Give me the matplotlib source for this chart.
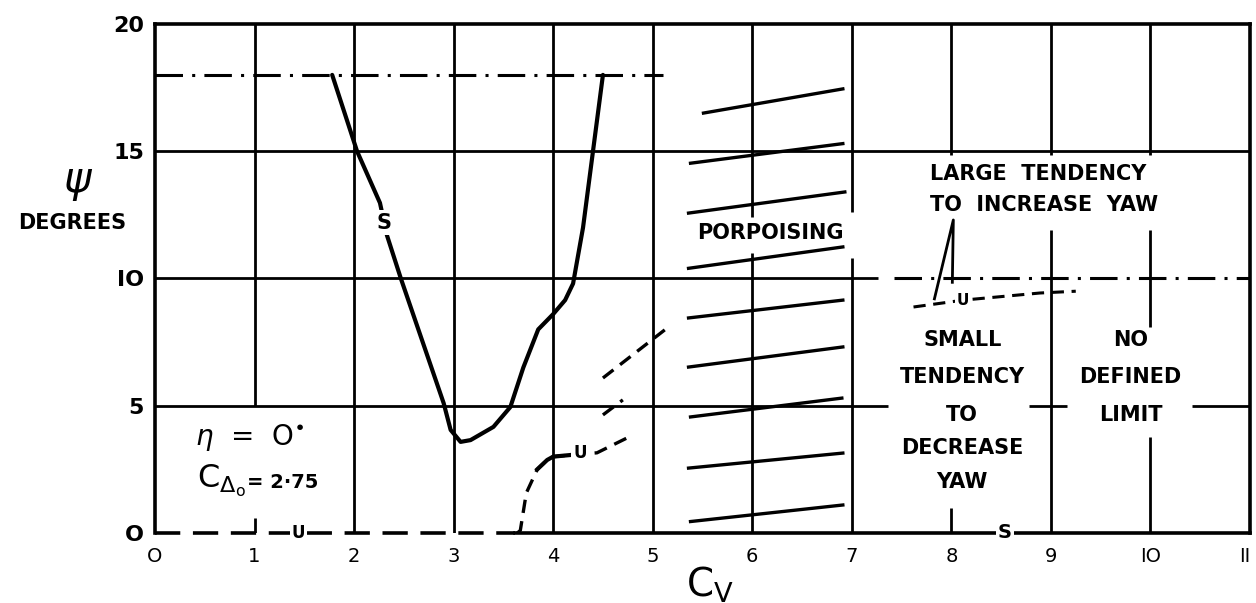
import matplotlib
matplotlib.use("Agg")
import matplotlib.pyplot as plt

# ---- data ----
# stable limit curve "S"
s_cv = [1.78, 2.03, 2.26, 2.33, 2.47, 2.90, 2.97, 3.07, 3.17, 3.40, 3.57, 3.70, 3.85, 4.00, 4.12, 4.20, 4.30, 4.40, 4.50]
s_psi = [18.0, 15.0, 12.97, 11.7, 10.0, 5.1, 4.05, 3.58, 3.65, 4.17, 4.95, 6.5, 8.0, 8.6, 9.15, 9.8, 12.0, 15.0, 18.0]

# unstable limit "U" (dashed)
u_cv = [3.64, 3.67, 3.73, 3.84, 3.94, 4.00, 4.27, 4.44, 4.74]
u_psi = [0.0, 0.1, 1.57, 2.5, 2.87, 3.0, 3.1, 3.15, 3.73]
u2_cv = [4.50, 5.16]
u2_psi = [6.09, 8.10]
u3_cv = [4.50, 4.70]
u3_psi = [4.64, 5.23]
u4_cv = [7.62, 8.12, 8.89, 9.25]
u4_psi = [8.88, 9.15, 9.43, 9.50]

# porpoising hatch lines
porp_x0 = [5.38, 5.36, 5.38, 5.36, 5.36, 5.36, 5.36, 5.38, 5.51]
porp_y0 = [0.45, 2.55, 4.56, 6.52, 8.45, 10.4, 12.57, 14.53, 16.5]
porp_x1 = [6.91, 6.91, 6.90, 6.91, 6.91, 6.91, 6.93, 6.91, 6.91]
porp_y1 = [1.10, 3.14, 5.30, 7.31, 9.15, 11.24, 13.4, 15.3, 17.45]

# dash-dot limits
limit18_cv = [0.0, 5.1]
limit10_cv = [7.42, 11.0]

x_ticks = list(range(12))
x_labels = ["O", "1", "2", "3", "4", "5", "6", "7", "8", "9", "IO", "II"]
y_ticks = [0, 5, 10, 15, 20]
y_labels = ["O", "5", "IO", "15", "20"]

K = "black"
plt.rcParams['font.family'] = ['DejaVu Sans']

fig = plt.figure(figsize=(12.56, 6.03), dpi=100)
ax = fig.add_axes([0.1234, 0.1161, 0.8718, 0.8441])
ax.set_xlim(0, 11)
ax.set_ylim(0, 20)

for side in ["top", "left", "right"]:
    ax.spines[side].set_linewidth(2.6)
ax.spines["bottom"].set_visible(False)

# grid, broken where the lettering sits
vsegs = {1: [(5, 20), (0, 0.6)], 2: [(0, 20)], 3: [(0, 20)], 4: [(0, 20)], 5: [(0, 20)],
         6: [(0, 11.0), (12.4, 20)], 7: [(0, 10.8), (12.6, 20)],
         8: [(14.85, 20), (0, 1.0)], 9: [(14.85, 20), (0, 11.9)],
         10: [(14.85, 20), (8.1, 11.9), (0, 3.77)]}
for xv, segs in vsegs.items():
    for a, b in segs:
        ax.plot([xv, xv], [a, b], color=K, lw=2.0, solid_capstyle='butt')
hsegs = {5: [(0, 7.36), (8.78, 9.16), (10.42, 11)], 10: [(0, 7.26)], 15: [(0, 11)]}
for yv, segs in hsegs.items():
    for a, b in segs:
        ax.plot([a, b], [yv, yv], color=K, lw=2.0, solid_capstyle='butt')

# bottom line: dashed "U" then solid "S"
ax.plot([0, 3.62], [0, 0], color=K, lw=2.6, dashes=(7, 3.5), clip_on=False)
ax.plot([3.62, 11], [0, 0], color=K, lw=2.6, clip_on=False)

dashdot = (9, 3, 1, 3)
ax.plot(limit18_cv, [18, 18], color=K, lw=2.2, dashes=dashdot)
ax.plot(limit10_cv, [10, 10], color=K, lw=2.2, dashes=dashdot)

ax.plot(s_cv, s_psi, color=K, lw=3.0, solid_capstyle='round', solid_joinstyle='round')
ax.plot(u_cv, u_psi, color=K, lw=2.4, dashes=(4, 2.5))
ax.plot(u_cv[3:7], u_psi[3:7], color=K, lw=3.0)
ax.plot(u2_cv, u2_psi, color=K, lw=2.4, dashes=(4, 2.5))
ax.plot(u3_cv, u3_psi, color=K, lw=2.4, dashes=(4, 2.5))
ax.plot(u4_cv, u4_psi, color=K, lw=2.2, dashes=(4, 2.5))

for x0, y0, x1, y1 in zip(porp_x0, porp_y0, porp_x1, porp_y1):
    ax.plot([x0, x1], [y0, y1], color=K, lw=2.4)

# pointer from LARGE TENDENCY text
ax.plot([7.83, 8.02, 8.01], [9.2, 12.3, 9.85], color=K, lw=2.0)

lab = dict(color=K, fontweight='bold', zorder=5,
           bbox=dict(facecolor='white', edgecolor='none', pad=1.5))
ax.text(2.30, 12.2, "S", fontsize=15, ha='center', va='center', **lab)
ax.text(4.27, 3.15, "U", fontsize=12, ha='center', va='center', **lab)
ax.text(8.12, 9.15, "U", fontsize=11, ha='center', va='center', **lab)
ax.text(1.44, 0.0, "U", fontsize=12, ha='center', va='center', clip_on=False, **lab)
ax.text(8.54, 0.0, "S", fontsize=14, ha='center', va='center', clip_on=False, **lab)

txt = dict(color=K, fontweight='bold', fontsize=15)
ax.text(5.45, 11.8, "PORPOISING", ha='left', va='center', **txt)
ax.text(7.79, 14.1, "LARGE  TENDENCY", ha='left', va='center', **txt)
ax.text(7.79, 12.9, "TO  INCREASE  YAW", ha='left', va='center', **txt)
for s, yy in zip(["SMALL", "TENDENCY", "TO", "DECREASE", "YAW"], [7.58, 6.13, 4.64, 3.34, 2.0]):
    ax.text(8.11, yy, s, ha='center', va='center', **txt)
for s, yy in zip(["NO", "DEFINED", "LIMIT"], [7.58, 6.13, 4.64]):
    ax.text(9.8, yy, s, ha='center', va='center', **txt)

ax.text(0.40, 3.77, r"$\eta$  =  O$^{\bullet}$", fontsize=20, ha='left', va='center', color=K)
ax.text(0.42, 2.05, r"$\mathsf{C}_{\Delta_{\mathsf{o}}}$", fontsize=23, ha='left', va='center', color=K)
ax.text(0.92, 2.0, "= 2·75", fontsize=14, fontweight='bold', ha='left', va='center', color=K)

ax.set_xticks(x_ticks)
ax.set_xticklabels(x_labels, fontsize=14)
ax.get_xticklabels()[-1].set_horizontalalignment('right')
ax.set_yticks(y_ticks)
ax.set_yticklabels(y_labels, fontsize=16, fontweight='bold')
ax.tick_params(axis='x', length=0, pad=10)
ax.tick_params(axis='y', length=0, pad=8)

fig.text(78 / 1256, 1 - 182 / 603, r"$\psi$", fontsize=30, ha='center', va='center', color=K)
fig.text(72 / 1256, 1 - 223 / 603, "DEGREES", fontsize=15, fontweight='bold', ha='center', va='center', color=K)
fig.text(710 / 1256, 1 - 585 / 603, r"$\mathsf{C}_{\mathsf{V}}$", fontsize=28, ha='center', va='center', color=K)

fig.savefig("out.png", dpi=100)
